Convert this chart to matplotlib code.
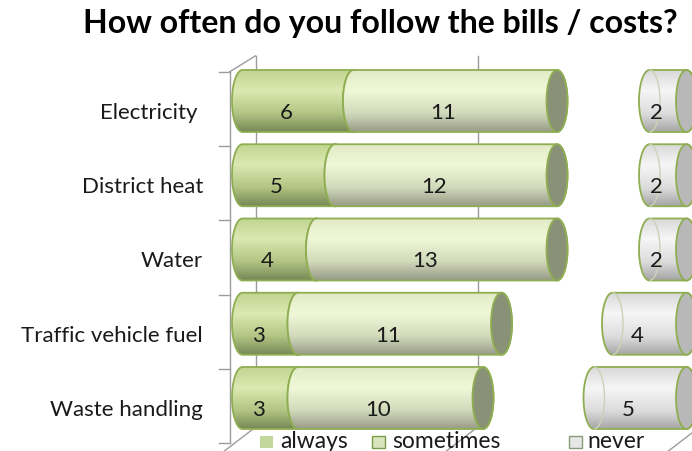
import numpy as np
import matplotlib
matplotlib.use("Agg")
import matplotlib.pyplot as plt
from matplotlib.patches import Polygon, Ellipse, Arc, Rectangle
from matplotlib.colors import to_rgb

# survey answers per cost type
categories = ["Electricity ", "District heat", "Water", "Traffic vehicle fuel", "Waste handling"]
always = [6, 5, 4, 3, 3]
sometimes = [11, 12, 13, 11, 10]
no_answer = [5, 5, 5, 6, 6]   # not drawn, only pushes "never" to the end
never = [2, 2, 2, 4, 5]
legend_names = ["always", "sometimes", "never"]
AXIS_MAX = 24
AXIS_STEP = 12

W, H = 692, 452
PX = 18.5            # pixels per unit on the value axis
X0_PX = 242.5        # pixel of value 0
ROW_PX = 74.25       # pixels between category rows
ROW0_PX = 102        # pixel of the first bar centre

BAR_H = 62 / ROW_PX
R = 10.5 / PX        # half width of the end ellipse
LABEL_DY = 11 / ROW_PX
EDGE = "#8fae52"
FONT = ["Lato", "DejaVu Sans"]

STYLES = {
    "always": dict(stops=["#c1d590", "#dbe9b2", "#b2c583", "#788957"], cap="#899177"),
    "sometimes": dict(stops=["#e1eac4", "#f1f8d9", "#d2dabb", "#999c88"], cap="#899177"),
    "never": dict(stops=["#d9d9d9", "#f6f6f6", "#dddddd", "#a6a6a6"], cap="#b8b8b8"),
}


def gradient(stops, n=64):
    pos = [0.0, 0.33, 0.7, 1.0]
    cols = np.array([to_rgb(c) for c in stops])
    t = np.linspace(0, 1, n)
    rgb = np.column_stack([np.interp(t, pos, cols[:, k]) for k in range(3)])
    return rgb[:, None, :]


def cylinder(ax, x0, x1, yc, style, z, left_rim=False):
    hh = BAR_H / 2
    t = np.linspace(0, np.pi, 60)
    left = np.column_stack([x0 - R * np.sin(t), yc - hh * np.cos(t)])
    right = np.column_stack([x1 + R * np.sin(t), yc + hh * np.cos(t)])
    body = Polygon(np.vstack([left, right]), closed=True, facecolor="none",
                   edgecolor=EDGE, lw=1.3, zorder=z + 0.01)
    ax.add_patch(body)
    img = ax.imshow(gradient(STYLES[style]["stops"]), extent=(x0 - R, x1 + R, yc + hh, yc - hh),
                    origin="upper", aspect="auto", interpolation="bilinear", zorder=z)
    img.set_clip_path(body)
    if left_rim:
        ax.add_patch(Arc((x0, yc), 2 * R, 2 * hh, theta1=-90, theta2=90,
                         color="#c9d3b5", lw=1.0, zorder=z + 0.02))
    ax.add_patch(Ellipse((x1, yc), 2 * R, 2 * hh, facecolor=STYLES[style]["cap"],
                         edgecolor=EDGE, lw=1.3, zorder=z + 0.03))


fig = plt.figure(figsize=(W / 100, H / 100), dpi=100)
ax = fig.add_axes([0, 0, 1, 1])
ax.set_axis_off()

# walls and gridlines of the 3D frame
FDX, BDX = -13 / PX, 13 / PX
FDY, BDY = 8 / ROW_PX, -8 / ROW_PX
n = len(categories)
top, bottom = -0.5, n - 0.5
grid_col = "#9c9c9c"
for g in range(0, AXIS_MAX + 1, AXIS_STEP):
    ax.plot([g + BDX, g + BDX], [top + BDY, bottom + BDY], color=grid_col, lw=1, zorder=1)
    ax.plot([g + BDX, g + FDX - 0.4], [bottom + BDY, bottom + FDY + 0.13],
            color=grid_col, lw=1, zorder=1)
ax.plot([FDX, FDX], [top + FDY, bottom + FDY], color=grid_col, lw=1, zorder=1)
ax.plot([FDX, BDX], [top + FDY, top + BDY], color=grid_col, lw=1, zorder=1)
for b in np.arange(top, bottom + 0.5, 1):
    ax.plot([FDX - 0.55, FDX], [b + FDY, b + FDY], color=grid_col, lw=1, zorder=1)

# stacked cylinders
for i in range(n):
    z = 2 + i
    a0, a1 = 0, always[i]
    s1 = a1 + sometimes[i]
    n0 = s1 + no_answer[i]
    n1 = n0 + never[i]
    cylinder(ax, a0, a1, i, "always", z)
    cylinder(ax, a1, s1, i, "sometimes", z + 0.1)
    cylinder(ax, n0, n1, i, "never", z + 0.2, left_rim=True)
    for lo, hi, v in [(a0, a1, always[i]), (a1, s1, sometimes[i]), (n0, n1, never[i])]:
        ax.text((lo + hi) / 2 - 0.65, i + LABEL_DY, str(v), ha="center", va="center",
                fontsize=16, family=FONT, color="#1a1a1a", zorder=20)
    ax.text((203 - X0_PX) / PX, i + LABEL_DY, categories[i], ha="right",
            va="center", fontsize=16, family=FONT, color="#1a1a1a", zorder=20)

ax.set_xlim(-X0_PX / PX, (W - X0_PX) / PX)
ax.set_ylim((H - ROW0_PX) / ROW_PX, -ROW0_PX / ROW_PX)

fig.text(380 / W, 1 - 23 / H, "How often do you follow the bills / costs?", ha="center",
         va="center", fontsize=23, fontweight="bold", family=FONT, color="black")

# legend
legend_boxes = [("#c3d69b", "none", 260, 280), ("#d7e4bd", "#7d9a48", 372, 392),
                ("#e6e6e6", "#8c9a78", 569, 587)]
for name, (fc, ec, bx, tx) in zip(legend_names, legend_boxes):
    fig.add_artist(Rectangle((bx / W, 1 - 449 / H), 13 / W, 12 / H, transform=fig.transFigure,
                             facecolor=fc, edgecolor=ec, lw=1))
    fig.text(tx / W, 1 - 442 / H, name, ha="left", va="center", fontsize=16.5,
             family=FONT, color="#1a1a1a")

fig.savefig("out.png", dpi=100)
